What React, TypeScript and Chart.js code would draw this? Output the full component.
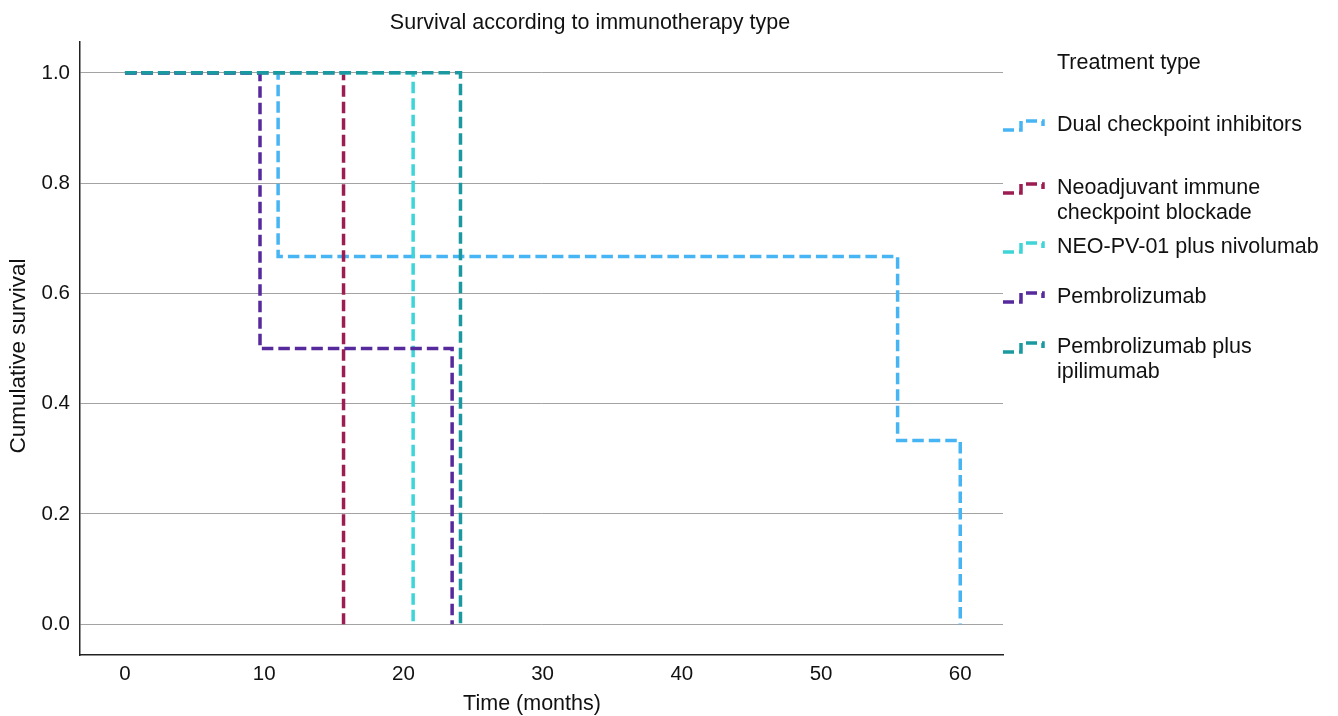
import React, { useEffect, useRef } from "react";
import { Chart, registerables } from "chart.js";

Chart.register(...registerables);

const chartTitle = "Survival according to immunotherapy type";
const xAxisTitle = "Time (months)";
const yAxisTitle = "Cumulative survival";
const legendTitle = "Treatment type";

const xTicks = [0, 10, 20, 30, 40, 50, 60];
const yTicks = [0, 0.2, 0.4, 0.6, 0.8, 1.0];

const seriesNames = [
  "Dual checkpoint inhibitors",
  "Neoadjuvant immune checkpoint blockade",
  "NEO-PV-01 plus nivolumab",
  "Pembrolizumab",
  "Pembrolizumab plus ipilimumab",
];
const legendLines = [
  ["Dual checkpoint inhibitors"],
  ["Neoadjuvant immune", "checkpoint blockade"],
  ["NEO-PV-01 plus nivolumab"],
  ["Pembrolizumab"],
  ["Pembrolizumab plus", "ipilimumab"],
];
const seriesColors = ["#47b5f3", "#9c1d52", "#3dd5d8", "#56299c", "#1a9aa0"];

const dualTimes = [0, 11.0, 55.5, 60.0];
const dualSurvival = [1.0, 0.667, 0.333, 0.0];
const neoTimes = [0, 15.7];
const neoSurvival = [1.0, 0.0];
const neoPvTimes = [0, 20.7];
const neoPvSurvival = [1.0, 0.0];
const pembroTimes = [0, 9.7, 23.5];
const pembroSurvival = [1.0, 0.5, 0.0];
const pembroIpiTimes = [0, 24.1];
const pembroIpiSurvival = [1.0, 0.0];

const allTimes = [dualTimes, neoTimes, neoPvTimes, pembroTimes, pembroIpiTimes];
const allSurvival = [dualSurvival, neoSurvival, neoPvSurvival, pembroSurvival, pembroIpiSurvival];

const FONT = "'Liberation Sans', Arial, Helvetica, sans-serif";
const DASH = [11.5, 5];

const textPlugin = {
  id: "customText",
  afterDraw(chart: any) {
    const ctx = chart.ctx as CanvasRenderingContext2D;
    ctx.save();
    ctx.fillStyle = "#111";
    ctx.font = `21.5px ${FONT}`;
    ctx.textAlign = "center";
    ctx.textBaseline = "middle";
    ctx.fillText(chartTitle, 590, 23);
    ctx.fillText(xAxisTitle, 532, 704);
    ctx.save();
    ctx.translate(19, 356);
    ctx.rotate(-Math.PI / 2);
    ctx.font = `22.5px ${FONT}`;
    ctx.fillText(yAxisTitle, 0, 0);
    ctx.restore();

    // legend
    ctx.textAlign = "left";
    ctx.fillText(legendTitle, 1057, 63);
    const itemY = [125, 188, 247, 297, 347];
    const lineH = 25;
    legendLines.forEach((lines, i) => {
      const y = itemY[i];
      lines.forEach((t, j) => {
        ctx.fillStyle = "#111";
        ctx.fillText(t, 1057, y + j * lineH);
      });
      ctx.strokeStyle = seriesColors[i];
      ctx.lineWidth = 3.5;
      ctx.setLineDash([11, 5]);
      ctx.beginPath();
      ctx.moveTo(1003, y + 5);
      ctx.lineTo(1021, y + 5);
      ctx.lineTo(1021, y - 4);
      ctx.lineTo(1043, y - 4);
      ctx.lineTo(1043, y + 1);
      ctx.stroke();
      ctx.setLineDash([]);
    });
    ctx.restore();
  },
};

export default function App() {
  const ref = useRef<HTMLCanvasElement>(null);
  useEffect(() => {
    if (!ref.current) return;
    const datasets = seriesNames.map((name, i) => ({
      label: name,
      data: allTimes[i].map((t, k) => ({ x: t, y: allSurvival[i][k] })),
      borderColor: seriesColors[i],
      backgroundColor: seriesColors[i],
      borderWidth: 3.5,
      borderDash: DASH,
      stepped: "before" as const,
      pointRadius: 0,
      fill: false,
      order: seriesNames.length - i,
    }));
    const chart = new Chart(ref.current, {
      type: "line",
      data: { datasets },
      options: {
        animation: false,
        responsive: false,
        layout: { padding: { top: 42, right: 335, left: 0, bottom: 0 } },
        plugins: {
          legend: { display: false },
          title: { display: false },
          tooltip: { enabled: false },
        },
        scales: {
          x: {
            type: "linear",
            min: -3.23,
            max: 63.07,
            afterFit: (s: any) => {
              s.height = 61;
            },
            afterBuildTicks: (s: any) => {
              s.ticks = xTicks.map((v) => ({ value: v }));
            },
            grid: { display: false, drawTicks: false },
            border: { display: true, color: "#222", width: 1.5 },
            ticks: {
              padding: 7,
              color: "#111",
              font: { family: FONT, size: 20.5 },
              maxRotation: 0,
              autoSkip: false,
            },
          },
          y: {
            type: "linear",
            min: -0.056,
            max: 1.056,
            afterFit: (s: any) => {
              s.width = 80;
            },
            afterBuildTicks: (s: any) => {
              s.ticks = yTicks.map((v) => ({ value: v }));
            },
            grid: { display: true, drawTicks: false, color: "#a3a3a3", lineWidth: 1 },
            border: { display: true, color: "#222", width: 1.5 },
            ticks: {
              padding: 10,
              color: "#111",
              font: { family: FONT, size: 20.5 },
              callback: (v: any) => Number(v).toFixed(1),
              autoSkip: false,
            },
          },
        },
      },
      plugins: [textPlugin],
    });
    return () => chart.destroy();
  }, []);
  return (
    <div style={{ position: "absolute", left: 0, top: 0, width: 1338, height: 716, background: "#fff" }}>
      <canvas ref={ref} width={1338} height={716} />
    </div>
  );
}
